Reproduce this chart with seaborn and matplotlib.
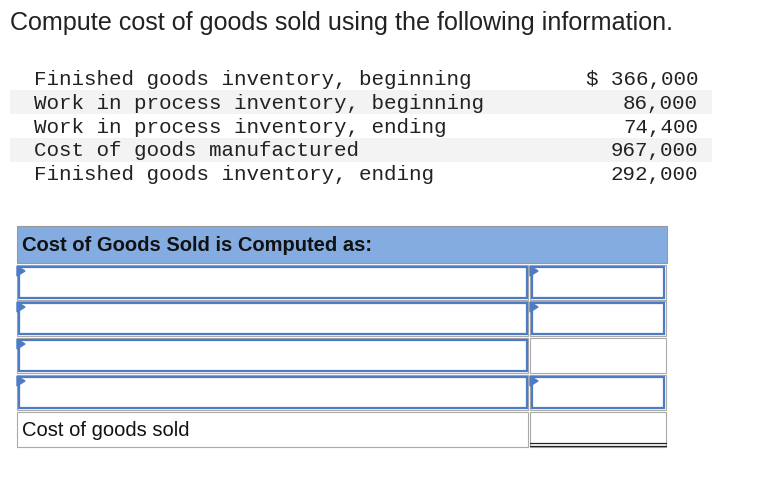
import matplotlib
matplotlib.use("Agg")
import matplotlib.pyplot as plt
import seaborn as sns
from matplotlib.patches import Rectangle, Polygon

sns.set_style("white")

title = "Compute cost of goods sold using the following information."
item_labels = ["Finished goods inventory, beginning",
               "Work in process inventory, beginning",
               "Work in process inventory, ending",
               "Cost of goods manufactured",
               "Finished goods inventory, ending"]
item_values = ["$ 366,000", "86,000", "74,400", "967,000", "292,000"]
header = "Cost of Goods Sold is Computed as:"
final_label = "Cost of goods sold"
row_inputs = [True, True, True, True]      # left cell input box
right_inputs = [True, True, False, True]   # right cell input box

fig = plt.figure(figsize=(7.64, 4.78), dpi=100)
ax = fig.add_axes([0, 0, 1, 1])
ax.set_xlim(0, 764); ax.set_ylim(478, 0); ax.axis("off")

ax.text(10, 23, title, fontsize=18.1, family="Liberation Sans", va="center", color="#222")

for i, (lab, val) in enumerate(zip(item_labels, item_values)):
    y = 78 + 24 * i
    if i % 2 == 1:
        ax.add_patch(Rectangle((10, y - 12), 702, 24, color="#f3f3f3", lw=0))
    ax.text(34, y + 1, lab, fontsize=15, family="Liberation Mono", va="center", color="#222")
    ax.text(698, y + 1, val, fontsize=15, family="Liberation Mono", va="center", ha="right", color="#222")

# header
ax.add_patch(Rectangle((17, 226), 650, 37, facecolor="#84ace0", edgecolor="#999", lw=0.8))
ax.text(22, 245, header, fontsize=14.5, weight="bold", family="Liberation Sans", va="center", color="#111")

blue = "#4d7cc4"
row_tops = [265, 301, 338, 375]
for i, top in enumerate(row_tops):
    h = 35
    ax.add_patch(Rectangle((17, top), 511, h, facecolor="white", edgecolor="#aaa", lw=0.8))
    ax.add_patch(Rectangle((530, top), 136, h, facecolor="white", edgecolor="#aaa", lw=0.8))
    if row_inputs[i]:
        ax.add_patch(Rectangle((18.5, top + 2), 508, h - 4, fill=False, edgecolor=blue, lw=1.6))
        ax.add_patch(Polygon([(17, top + 1), (25, top + 6), (17, top + 11)], color=blue))
    if right_inputs[i]:
        ax.add_patch(Rectangle((532, top + 2), 132, h - 4, fill=False, edgecolor=blue, lw=1.6))
        ax.add_patch(Polygon([(530, top + 1), (538, top + 6), (530, top + 11)], color=blue))

top = 412
ax.add_patch(Rectangle((17, top), 511, 35, facecolor="white", edgecolor="#aaa", lw=0.8))
ax.add_patch(Rectangle((530, top), 136, 35, facecolor="white", edgecolor="#aaa", lw=0.8))
ax.plot([530, 666], [443, 443], color="#222", lw=0.9)
ax.plot([530, 666], [446, 446], color="#222", lw=0.9)
ax.text(22, 430, final_label, fontsize=14.5, family="Liberation Sans", va="center", color="#111")

fig.savefig("out.png", dpi=100, facecolor="white")
